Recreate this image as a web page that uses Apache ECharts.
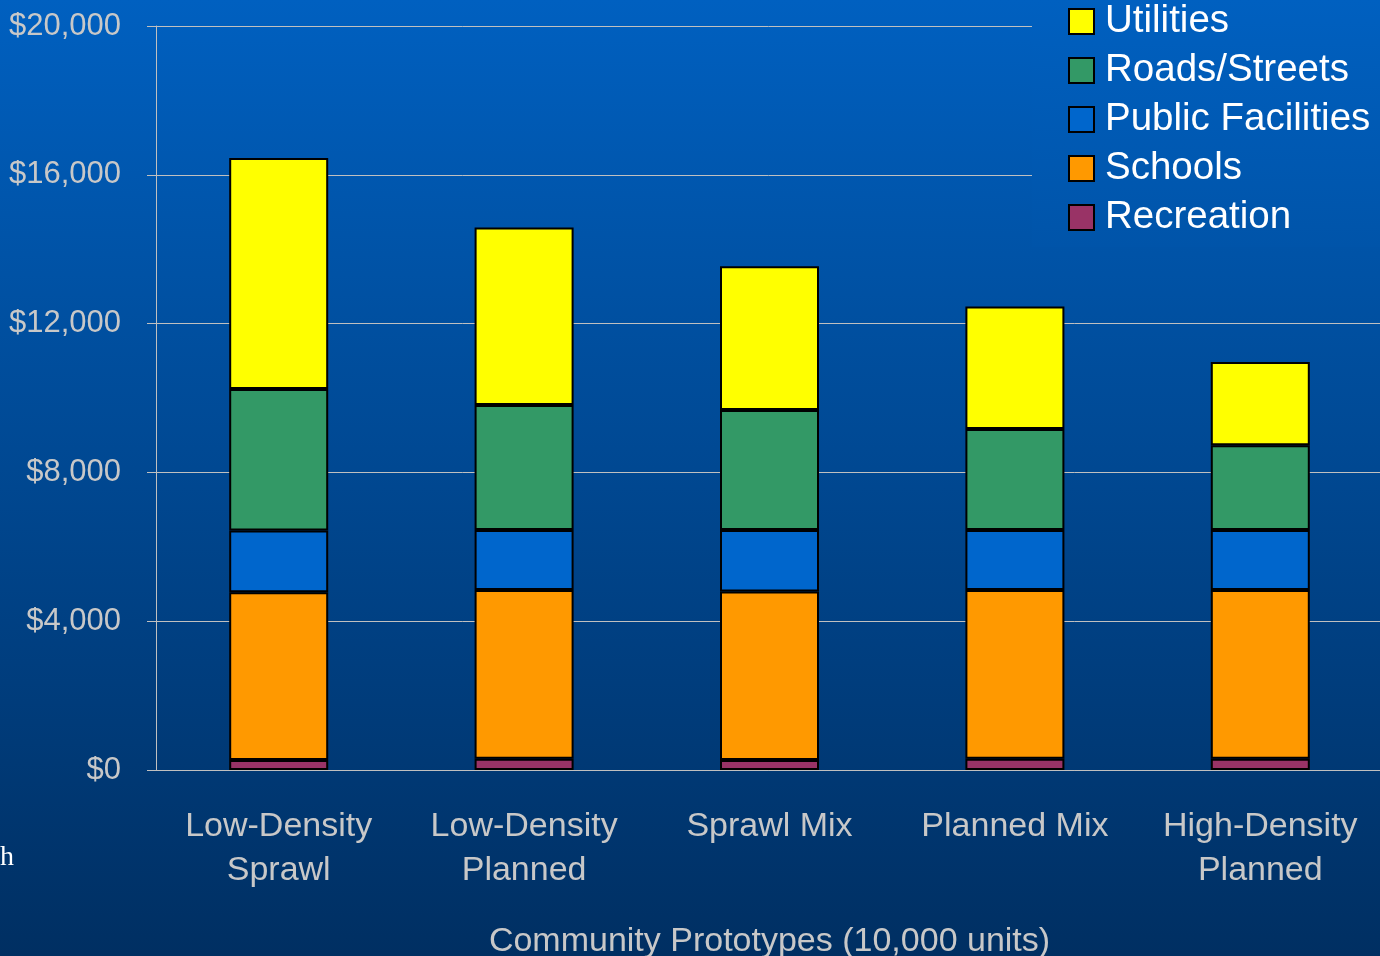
<!DOCTYPE html>
<html>
<head>
<meta charset="utf-8">
<script src="https://cdn.jsdelivr.net/npm/echarts@6/dist/echarts.min.js"></script>
<style>html,body{margin:0;padding:0;}#c{width:1380px;height:956px;}</style>
</head>
<body>
<div id="c"></div>
<script>
const categories = ['Low-Density\nSprawl', 'Low-Density\nPlanned', 'Sprawl Mix', 'Planned Mix', 'High-Density\nPlanned'];
const recreation = [270, 300, 270, 300, 300];
const schools = [4510, 4540, 4530, 4540, 4540];
const publicFacilities = [1660, 1610, 1650, 1610, 1610];
const roadsStreets = [3800, 3360, 3230, 2720, 2280];
const utilities = [6210, 4770, 3860, 3290, 2240];
const yTicks = [0, 4000, 8000, 12000, 16000, 20000];

const bgTop = '#0060c0', bgBottom = '#002f62';
const txt = '#c8c8c8', line = '#c0c0c0';
const font = 'Liberation Sans, Arial, sans-serif';

function mk(name, data, color) {
  return {
    name, type: 'bar', stack: 'total', data, barWidth: 99,
    itemStyle: { color, borderColor: '#000', borderWidth: 2 },
    emphasis: { disabled: true }
  };
}

const chart = echarts.init(document.getElementById('c'));
chart.setOption({
  animation: false,
  backgroundColor: { type: 'linear', x: 0, y: 0, x2: 0, y2: 1, colorStops: [{ offset: 0, color: bgTop }, { offset: 1, color: bgBottom }] },
  textStyle: { fontFamily: font },
  grid: { left: 156, right: -3, top: 26, bottom: 186, containLabel: false, outerBoundsMode: 'none' },
  xAxis: {
    type: 'category', data: categories,
    axisLine: { show: true, lineStyle: { color: line, width: 1 } },
    axisTick: { show: false },
    axisLabel: { color: txt, fontSize: 34, lineHeight: 44, margin: 35, fontFamily: font, interval: 0 },
    name: 'Community Prototypes (10,000 units)', nameLocation: 'middle', nameGap: 155,
    nameTextStyle: { color: txt, fontSize: 34, fontFamily: font }
  },
  yAxis: {
    type: 'value', min: yTicks[0], max: yTicks[yTicks.length - 1], interval: 4000,
    axisLine: { show: true, lineStyle: { color: line, width: 1 } },
    axisTick: { show: true, length: 9, lineStyle: { color: line } },
    splitLine: { show: true, lineStyle: { color: line, width: 1 } },
    axisLabel: {
      color: txt, fontSize: 31, margin: 35, fontFamily: font, padding: [4, 0, 0, 0],
      formatter: v => '$' + v.toLocaleString('en-US')
    }
  },
  legend: {
    data: ['Utilities', 'Roads/Streets', 'Public Facilities', 'Schools', 'Recreation'],
    orient: 'vertical', left: 1032, top: 0,
    padding: [2, 10, 10, 36],
    icon: 'rect',
    itemWidth: 25, itemHeight: 25, itemGap: 10,
    backgroundColor: { type: 'linear', x: 0, y: 0, x2: 0, y2: 1, colorStops: [{ offset: 0, color: bgTop }, { offset: 1, color: '#0054a9' }] },
    textStyle: { color: '#ffffff', fontSize: 38.5, lineHeight: 39, fontFamily: font, padding: [0, 0, 0, 6] },
    selectedMode: false
  },
  graphic: [{
    type: 'text', left: 0, top: 844,
    style: { text: 'h', fill: '#ffffff', font: '28px "Liberation Serif", serif' }
  }],
  series: [
    mk('Recreation', recreation, '#993366'),
    mk('Schools', schools, '#ff9900'),
    mk('Public Facilities', publicFacilities, '#0066cc'),
    mk('Roads/Streets', roadsStreets, '#339966'),
    mk('Utilities', utilities, '#ffff00')
  ]
});
</script>
</body>
</html>
